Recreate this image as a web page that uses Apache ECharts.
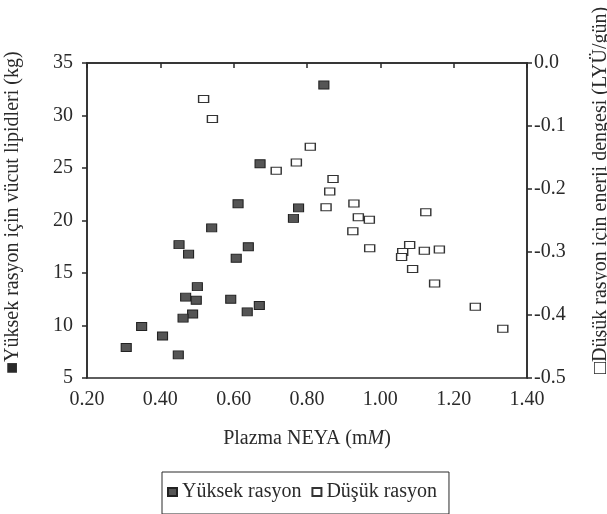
<!DOCTYPE html>
<html>
<head>
<meta charset="utf-8">
<script src="https://cdn.jsdelivr.net/npm/echarts@6/dist/echarts.min.js"></script>
<style>
  html, body { margin: 0; padding: 0; background: #fff; }
  #main { width: 607px; height: 514px; }
</style>
</head>
<body>
<div id="main"></div>
<script>
// Yüksek rasyon: [NEYA, vücut lipidleri (kg)]
const yuksekRasyon = [
  [0.846, 32.9], [0.672, 25.4], [0.612, 21.6], [0.777, 21.2], [0.763, 20.2],
  [0.540, 19.3], [0.451, 17.7], [0.477, 16.8], [0.640, 17.5], [0.607, 16.4],
  [0.501, 13.7], [0.469, 12.7], [0.498, 12.4], [0.592, 12.5], [0.670, 11.9],
  [0.637, 11.3], [0.488, 11.1], [0.462, 10.7], [0.349, 9.9], [0.406, 9.0],
  [0.307, 7.9], [0.449, 7.2]
];
// Düşük rasyon: [NEYA, enerji dengesi (LYÜ/gün)]
const dusukRasyon = [
  [0.518, -0.057], [0.542, -0.089], [0.809, -0.133], [0.771, -0.158], [0.716, -0.171],
  [0.871, -0.184], [0.862, -0.204], [0.852, -0.229], [0.928, -0.223], [0.940, -0.245],
  [0.970, -0.249], [0.925, -0.267], [1.124, -0.237], [0.971, -0.294], [1.080, -0.289],
  [1.061, -0.300], [1.058, -0.308], [1.120, -0.298], [1.161, -0.296], [1.088, -0.327],
  [1.148, -0.350], [1.259, -0.387], [1.334, -0.422]
];
const xTicks = [0.2, 1.4, 0.2];     // min, max, interval
const leftTicks = [5, 35, 5];
const rightTicks = [-0.5, 0, 0.1];

const font = 'Liberation Serif';
const ink = '#2a2a2a';
const fs = 20;

const myChart = echarts.init(document.getElementById('main'));
const option = {
  backgroundColor: '#fff',
  textStyle: { fontFamily: font, color: ink },
  grid: {
    left: 87, right: 80, top: 63, bottom: 136,
    show: true, borderColor: ink, borderWidth: 1.5, backgroundColor: 'transparent'
  },
  xAxis: {
    type: 'value',
    min: xTicks[0], max: xTicks[1], interval: xTicks[2],
    axisLine: { lineStyle: { color: ink, width: 1.5 } },
    axisTick: { show: true, length: 5, lineStyle: { color: ink, width: 1.5 } },
    axisLabel: { fontFamily: font, fontSize: fs, color: ink, margin: 12,
      formatter: v => v.toFixed(2) },
    splitLine: { show: false },
    name: 'Plazma NEYA (m{i|M})',
    nameLocation: 'middle', nameGap: 51,
    nameTextStyle: { fontFamily: font, fontSize: fs, color: ink,
      rich: { i: { fontFamily: font, fontSize: fs, fontStyle: 'italic', color: ink } } }
  },
  yAxis: [
    {
      type: 'value', position: 'left',
      min: leftTicks[0], max: leftTicks[1], interval: leftTicks[2],
      axisLine: { show: true, lineStyle: { color: ink, width: 1.5 } },
      axisTick: { show: true, length: 5, lineStyle: { color: ink, width: 1.5 } },
      axisLabel: { fontFamily: font, fontSize: fs, color: ink, margin: 14 },
      splitLine: { show: false }
    },
    {
      type: 'value', position: 'right',
      min: rightTicks[0], max: rightTicks[1], interval: rightTicks[2],
      axisLine: { show: true, lineStyle: { color: ink, width: 1.5 } },
      axisTick: { show: true, length: 5, lineStyle: { color: ink, width: 1.5 } },
      axisLabel: { fontFamily: font, fontSize: fs, color: ink, margin: 7,
        formatter: v => v.toFixed(1) },
      splitLine: { show: false }
    }
  ],
  legend: {
    left: 162, top: 472,
    padding: [10, 12, 12, 5], itemGap: 10, itemWidth: 9, itemHeight: 8,
    borderColor: ink, borderWidth: 1,
    textStyle: { fontFamily: font, fontSize: fs, color: ink },
    data: [
      { name: 'Yüksek rasyon', icon: 'rect' },
      { name: 'Düşük rasyon', icon: 'rect' }
    ]
  },
  graphic: [
    {
      type: 'text', x: 13, y: 374, rotation: Math.PI / 2,
      style: { text: '■Yüksek rasyon için vücut lipidleri (kg)', fontFamily: font,
        fontSize: fs, fill: ink, align: 'left', verticalAlign: 'middle' }
    },
    {
      type: 'text', x: 601, y: 374, rotation: Math.PI / 2,
      style: { text: '□Düşük rasyon için enerji dengesi (LYÜ/gün)', fontFamily: font,
        fontSize: fs, fill: ink, align: 'left', verticalAlign: 'middle' }
    }
  ],
  series: [
    {
      name: 'Yüksek rasyon', type: 'scatter', yAxisIndex: 0,
      symbol: 'rect', symbolSize: [10, 8],
      itemStyle: { color: '#555', borderColor: '#222', borderWidth: 1, opacity: 1 },
      data: yuksekRasyon
    },
    {
      name: 'Düşük rasyon', type: 'scatter', yAxisIndex: 1,
      symbol: 'rect', symbolSize: [10, 7],
      itemStyle: { color: '#fff', borderColor: '#333', borderWidth: 1.2, opacity: 1 },
      data: dusukRasyon
    }
  ]
};
myChart.setOption(option);
</script>
</body>
</html>
